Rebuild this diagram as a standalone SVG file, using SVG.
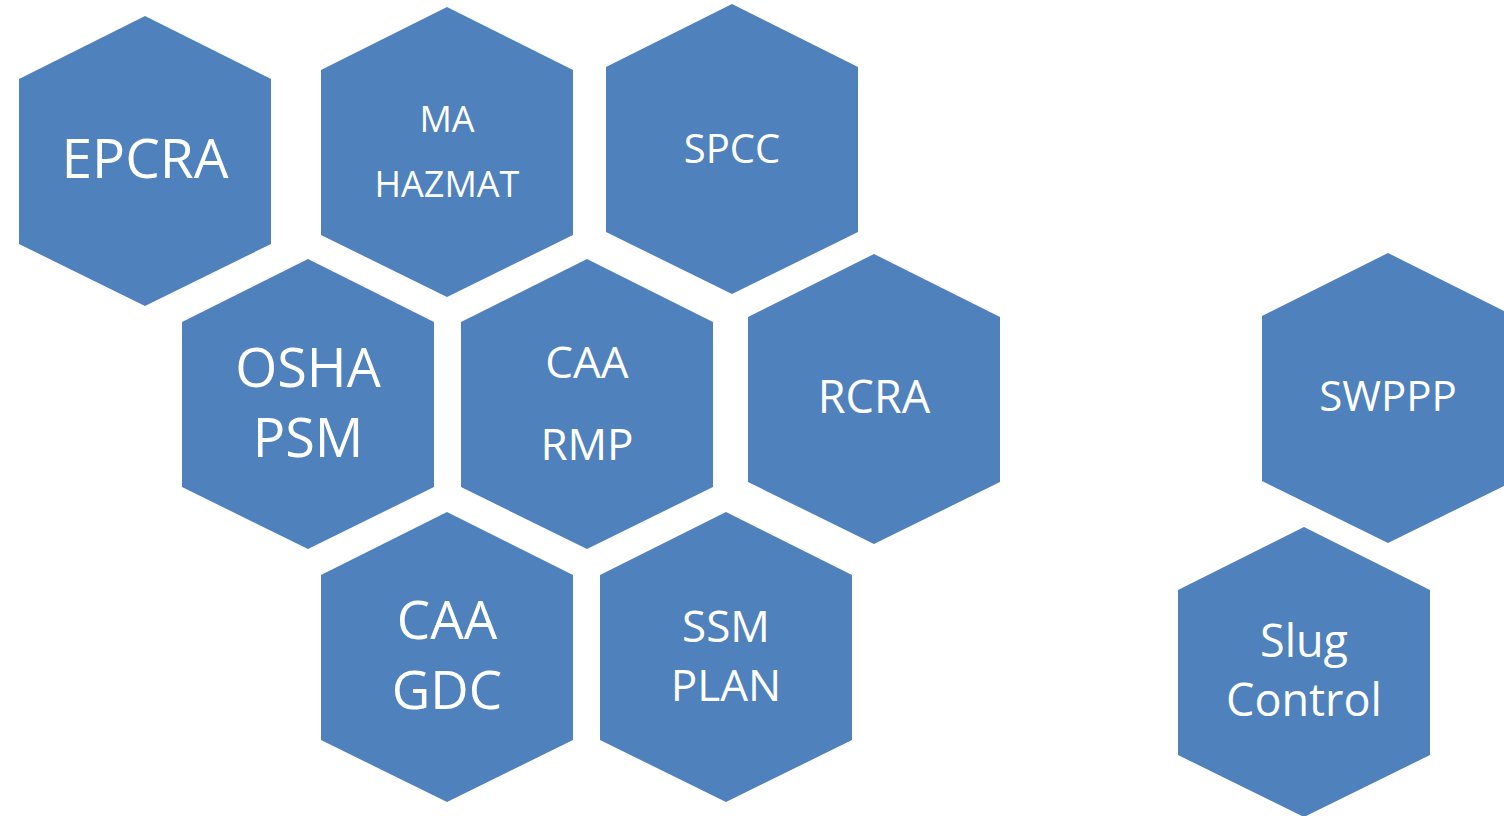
<svg xmlns="http://www.w3.org/2000/svg" xmlns:xlink="http://www.w3.org/1999/xlink" width="1504" height="816" viewBox="0 0 1504 816">
<style>
.hex{fill:#4F81BD}
text{font-family:"Open Sans","Liberation Sans",sans-serif;fill:#FFFFFF;text-anchor:middle}
</style>
<defs>
<polygon id="hex" class="hex" points="0,0 126,63 126,228 0,290 -126,228 -126,63"/>
</defs>
<rect width="1504" height="816" fill="#FFFFFF"/>
<g id="connectors"></g>
<g id="epcra"><use href="#hex" x="145" y="16"/><text x="145" y="178" font-size="55">EPCRA</text></g>
<g id="ma-hazmat"><use href="#hex" x="447" y="7"/><text x="447" y="132" font-size="36">MA</text><text x="447" y="197" font-size="36">HAZMAT</text></g>
<g id="spcc"><use href="#hex" x="732" y="4"/><text x="732" y="163" font-size="40">SPCC</text></g>
<g id="osha-psm"><use href="#hex" x="308" y="259"/><text x="308" y="387" font-size="54">OSHA</text><text x="308" y="457" font-size="54">PSM</text></g>
<g id="caa-rmp"><use href="#hex" x="587" y="259"/><text x="587" y="378" font-size="44">CAA</text><text x="587" y="460" font-size="44">RMP</text></g>
<g id="rcra"><use href="#hex" x="874" y="254"/><text x="874" y="413" font-size="45">RCRA</text></g>
<g id="caa-gdc"><use href="#hex" x="447" y="512"/><text x="447" y="639" font-size="53">CAA</text><text x="447" y="709" font-size="53">GDC</text></g>
<g id="ssm-plan"><use href="#hex" x="726" y="512"/><text x="726" y="642" font-size="44">SSM</text><text x="726" y="701" font-size="44">PLAN</text></g>
<g id="swppp"><use href="#hex" x="1388" y="253"/><text x="1388" y="411" font-size="42">SWPPP</text></g>
<g id="slug-control"><use href="#hex" x="1304" y="527"/><text x="1304" y="657" font-size="45">Slug</text><text x="1304" y="716" font-size="45">Control</text></g>
</svg>
